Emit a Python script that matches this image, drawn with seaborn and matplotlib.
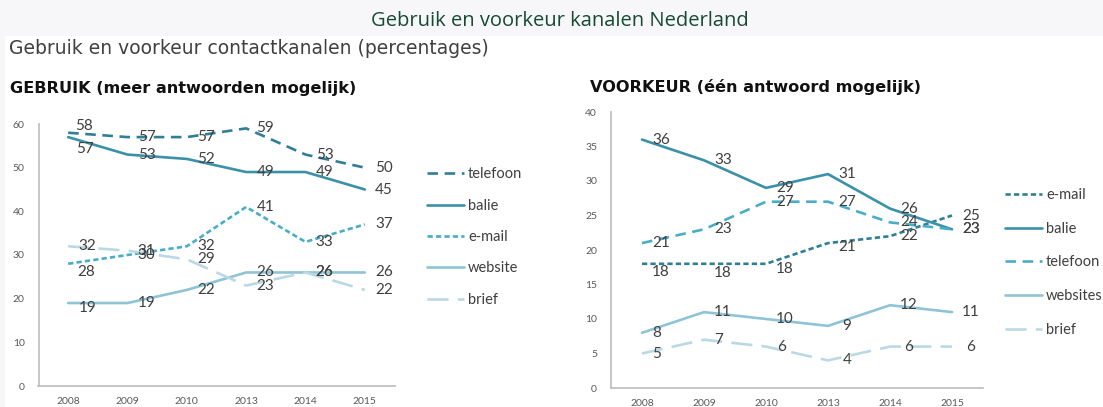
import matplotlib
matplotlib.use("Agg")
import matplotlib.pyplot as plt
import pandas as pd
import seaborn as sns
from matplotlib.lines import Line2D
from matplotlib.patches import Rectangle

# data
years = ["2008", "2009", "2010", "2013", "2014", "2015"]

# GEBRUIK (meer antwoorden mogelijk)
gebruik_telefoon = [58, 57, 57, 59, 53, 50]
gebruik_balie = [57, 53, 52, 49, 49, 45]
gebruik_email = [28, 30, 32, 41, 33, 37]
gebruik_website = [19, 19, 22, 26, 26, 26]
gebruik_brief = [32, 31, 29, 23, 26, 22]

# VOORKEUR (een antwoord mogelijk)
voorkeur_email = [18, 18, 18, 21, 22, 25]
voorkeur_balie = [36, 33, 29, 31, 26, 23]
voorkeur_telefoon = [21, 23, 27, 27, 24, 23]
voorkeur_websites = [8, 11, 10, 9, 12, 11]
voorkeur_brief = [5, 7, 6, 4, 6, 6]

DARK = "#2f7f97"
MID = "#3a91a8"
LIGHT = "#4aadc6"
PALE = "#8fc4d6"
PALER = "#bad9e5"
TXT = "#3f3f3f"
LABEL_FONT = ["Lato", "DejaVu Sans"]
LW = 1.9


def long_frame(series):
    rows = []
    for name, vals in series.items():
        for yr, v in zip(years, vals):
            rows.append({"jaar": yr, "waarde": v, "kanaal": name})
    return pd.DataFrame(rows)


def draw_panel(ax, series, colors, dashes, ymax, step, offsets, legend_at, spacing):
    df = long_frame(series)
    sns.lineplot(data=df, x="jaar", y="waarde", hue="kanaal", style="kanaal",
                 palette=colors, dashes=dashes, linewidth=LW, sort=False,
                 legend=False, ax=ax)
    for name, vals in series.items():
        for i, v in enumerate(vals):
            dx, dy = offsets.get((name, i), (19, 0))
            ax.annotate(str(v), (i, v), xytext=(dx, dy), textcoords="offset pixels",
                        ha="center", va="center", fontsize=11, color=TXT,
                        family=LABEL_FONT)
    ax.set_xlim(-0.5, len(years) - 0.5)
    ax.set_ylim(0, ymax)
    ax.set_yticks(range(0, ymax + 1, step))
    ax.set_xticks([i - 0.5 for i in range(len(years) + 1)])
    ax.set_xticklabels([])
    ax.set_xticks(range(len(years)), minor=True)
    ax.set_xticklabels(years, minor=True)
    ax.tick_params(axis="x", which="minor", length=0, pad=8, labelsize=7.5,
                   labelcolor="#595959")
    ax.tick_params(axis="x", which="major", length=4, color="#bfbfbf")
    ax.tick_params(axis="y", length=4, color="#bfbfbf", labelsize=7.5,
                   labelcolor="#595959", pad=6)
    for lab in ax.get_yticklabels() + ax.get_xticklabels(minor=True):
        lab.set_family(LABEL_FONT)
    ax.set_xlabel("")
    ax.set_ylabel("")
    sns.despine(ax=ax)
    for s in ("left", "bottom"):
        ax.spines[s].set_color("#bfbfbf")
    ax.set_facecolor("white")

    handles = []
    for name in series:
        h = Line2D([], [], color=colors[name], lw=LW)
        if dashes[name]:
            h.set_dashes(dashes[name])
        handles.append(h)
    leg = ax.legend(handles, list(series.keys()), loc="upper left",
                    bbox_to_anchor=legend_at, frameon=False, handlelength=2.5,
                    handletextpad=0.3, labelspacing=spacing,
                    prop={"family": LABEL_FONT, "size": 10.5})
    for t in leg.get_texts():
        t.set_color(TXT)


sns.set_theme(style="white")
plt.rcParams["font.family"] = ["DejaVu Sans"]

fig = plt.figure(figsize=(11.03, 4.07), dpi=100)
fig.patch.set_facecolor("#f7f7fa")
fig.patches.append(Rectangle((5 / 1103, 0), 1, 1 - 36 / 407, transform=fig.transFigure,
                             facecolor="white", edgecolor="none", zorder=-1))

fig.text(0.508, 1 - 21 / 407, "Gebruik en voorkeur kanalen Nederland",
         ha="center", va="center", fontsize=14.5, color="#164a32",
         family=["Open Sans", "DejaVu Sans"])
fig.text(9 / 1103, 1 - 49 / 407, "Gebruik en voorkeur contactkanalen (percentages)",
         ha="left", va="center", fontsize=13.5, color="#404040")
fig.text(10 / 1103, 1 - 88 / 407, "GEBRUIK (meer antwoorden mogelijk)",
         ha="left", va="center", fontsize=11.6, fontweight="bold", color="#111111")
fig.text(590 / 1103, 1 - 87 / 407, "VOORKEUR (één antwoord mogelijk)",
         ha="left", va="center", fontsize=11.6, fontweight="bold", color="#111111")

ax1 = fig.add_axes([38.5 / 1103, 1 - 386 / 407, 356 / 1103, 262 / 407])
ax2 = fig.add_axes([611 / 1103, 1 - 388 / 407, 372 / 1103, 276 / 407])

left_series = {
    "telefoon": gebruik_telefoon,
    "balie": gebruik_balie,
    "e-mail": gebruik_email,
    "website": gebruik_website,
    "brief": gebruik_brief,
}
left_colors = {"telefoon": DARK, "balie": MID, "e-mail": LIGHT,
               "website": PALE, "brief": PALER}
left_dashes = {"telefoon": (4, 2.5), "balie": "", "e-mail": (2, 1.2),
               "website": "", "brief": (8, 3.5)}
left_offsets = {("telefoon", 0): (16, 7), ("balie", 0): (17, -12),
                ("e-mail", 0): (18, -8), ("website", 0): (19, -5)}
draw_panel(ax1, left_series, left_colors, left_dashes, 60, 10, left_offsets,
           (1.055, 0.885), 1.19)

right_series = {
    "e-mail": voorkeur_email,
    "balie": voorkeur_balie,
    "telefoon": voorkeur_telefoon,
    "websites": voorkeur_websites,
    "brief": voorkeur_brief,
}
right_colors = {"e-mail": DARK, "balie": MID, "telefoon": LIGHT,
                "websites": PALE, "brief": PALER}
right_dashes = {"e-mail": (2, 1.2), "balie": "", "telefoon": (4, 2.5),
                "websites": "", "brief": (8, 3.5)}
right_offsets = {("e-mail", 0): (19, -8), ("e-mail", 1): (19, -9),
                 ("e-mail", 2): (19, -5), ("e-mail", 3): (19, -4),
                 ("websites", 0): (15, 0), ("brief", 0): (15, 0),
                 ("brief", 1): (15, 0), ("brief", 2): (16, 0)}
draw_panel(ax2, right_series, right_colors, right_dashes, 40, 5, right_offsets,
           (1.024, 0.772), 1.35)

fig.savefig("out.png", dpi=100, facecolor=fig.get_facecolor())
